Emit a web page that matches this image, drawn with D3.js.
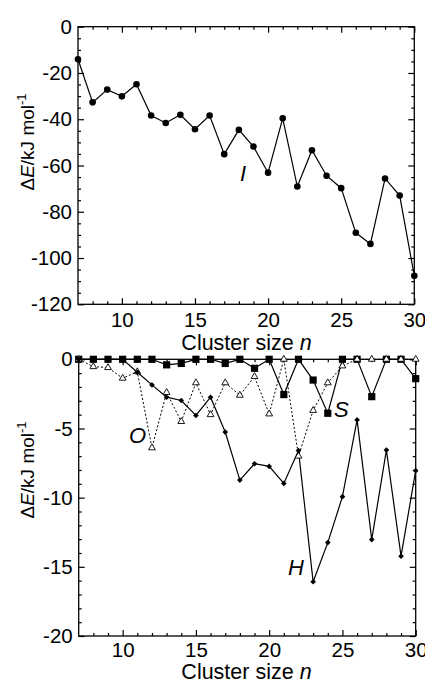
<!DOCTYPE html>
<html>
<head>
<meta charset="utf-8">
<script src="https://cdn.jsdelivr.net/npm/d3@7"></script>
<style>
  body { margin: 0; background: #fff; }
  text { font-family: "Liberation Sans", Arial, sans-serif; fill: #000; }
</style>
</head>
<body>
<svg id="chart" width="425" height="682"></svg>
<script>
// cluster size n
var clusterSize = [7, 8, 9, 10, 11, 12, 13, 14, 15, 16, 17, 18, 19, 20, 21, 22, 23, 24, 25, 26, 27, 28, 29, 30];

// top panel, series I
var energyI = [-14.1, -32.7, -27.2, -30.1, -24.9, -38.4, -41.6, -38.1, -44.3, -38.4, -55.1, -44.6,
               -51.8, -63.1, -39.6, -69.1, -53.4, -64.4, -69.8, -89.1, -93.9, -65.6, -73.0, -107.7];

// bottom panel, series S, O, H
var energyS = [0, 0, 0, 0, 0, 0, -0.4, -0.3, 0, 0, -0.3, 0,
               -0.65, 0, -2.55, 0, -1.5, -3.9, 0, 0, -2.7, 0, 0, -1.4];
var energyO = [0, -0.53, -0.6, -1.37, -0.9, -6.4, -2.4, -4.5, -1.7, -4.0, -1.7, -2.6,
               -1.25, -3.95, 0, -7.0, -3.7, -1.7, -0.48, 0, 0, 0, 0, 0];
var energyH = [0, 0, 0, 0, -0.94, -1.85, -2.74, -2.98, -4.06, -2.74, -5.26, -8.73,
               -7.55, -7.74, -8.97, -6.6, -16.08, -13.25, -9.93, -4.38, -13.03, -6.56, -14.23, -8.05];

var xMajor = [10, 15, 20, 25, 30];
var xMinor = [8, 9, 11, 12, 13, 14, 16, 17, 18, 19, 21, 22, 23, 24, 26, 27, 28, 29];
var yMajorTop = [0, -20, -40, -60, -80, -100, -120];
var yMajorBottom = [0, -5, -10, -15, -20];

var svg = d3.select("#chart");

function zip(ys) {
  return clusterSize.map(function(n, i) { return {n: n, v: ys[i]}; });
}

// plain hyphen for negatives, like the original
function fmt(d) { return String(d); }

function makePanel(box, yDomain, yMajor, yMinorStep, labelPad) {
  var x = d3.scaleLinear().domain([7, 30]).range([box.left, box.right]);
  var y = d3.scaleLinear().domain(yDomain).range([box.top, box.bottom]);
  var yMinor = d3.range(yDomain[0], yDomain[1] - 0.001, -yMinorStep).filter(function(v) {
    return yMajor.indexOf(v) < 0;
  });

  var g = svg.append("g");

  function axis(gen, scale, vals, size, labels, tr) {
    var a = g.append("g")
      .attr("transform", tr)
      .call(gen(scale).tickValues(vals).tickSizeInner(size).tickSizeOuter(0)
        .tickFormat(labels ? fmt : ""));
    a.select(".domain").remove();
    a.selectAll("line").attr("stroke", "#000").attr("stroke-width", 1.2);
    a.selectAll("text").style("font-size", "20.5px").attr("fill", "#000");
    return a;
  }

  var bottomT = "translate(0," + box.bottom + ")", topT = "translate(0," + box.top + ")";
  var leftT = "translate(" + box.left + ",0)", rightT = "translate(" + box.right + ",0)";

  axis(d3.axisBottom, x, xMajor, -6, true, bottomT).call(function(a) { a.selectAll("text").attr("y", labelPad); });
  axis(d3.axisBottom, x, xMinor, -3, false, bottomT);
  axis(d3.axisTop, x, xMajor, -6, false, topT);
  axis(d3.axisTop, x, xMinor, -3, false, topT);
  axis(d3.axisLeft, y, yMajor, -6, true, leftT).call(function(a) { a.selectAll("text").attr("x", -6); });
  axis(d3.axisLeft, y, yMinor, -3, false, leftT);
  axis(d3.axisRight, y, yMajor, -6, false, rightT);
  axis(d3.axisRight, y, yMinor, -3, false, rightT);

  g.append("rect")
    .attr("x", box.left).attr("y", box.top)
    .attr("width", box.right - box.left).attr("height", box.bottom - box.top)
    .attr("fill", "none").attr("stroke", "#000").attr("stroke-width", 1.3);

  return {g: g, x: x, y: y};
}

var topP = makePanel({left: 78, right: 414.3, top: 26.7, bottom: 304.3}, [0, -120], yMajorTop, 5, 8);
var botP = makePanel({left: 78.7, right: 415.7, top: 359.3, bottom: 636}, [0, -20], yMajorBottom, 1, 6);

function drawLine(p, data, dash) {
  var line = d3.line()
    .x(function(d) { return p.x(d.n); })
    .y(function(d) { return p.y(d.v); });
  p.g.append("path")
    .datum(data)
    .attr("fill", "none")
    .attr("stroke", "#000")
    .attr("stroke-width", dash ? 1 : 1.2)
    .attr("stroke-dasharray", dash ? "2,2" : null)
    .attr("d", line);
}

// top: I
drawLine(topP, zip(energyI), false);
topP.g.selectAll("circle.i")
  .data(zip(energyI))
  .enter().append("circle")
    .attr("cx", function(d) { return topP.x(d.n); })
    .attr("cy", function(d) { return topP.y(d.v); })
    .attr("r", 3.3)
    .attr("fill", "#000");

// bottom: S, O, H
drawLine(botP, zip(energyS), false);
drawLine(botP, zip(energyH), false);
drawLine(botP, zip(energyO), true);

botP.g.selectAll("rect.s")
  .data(zip(energyS))
  .enter().append("rect")
    .attr("x", function(d) { return botP.x(d.n) - 3.6; })
    .attr("y", function(d) { return botP.y(d.v) - 3.6; })
    .attr("width", 7.2).attr("height", 7.2)
    .attr("fill", "#000");

var tri = d3.symbol().type(d3.symbolTriangle).size(20);
botP.g.selectAll("path.o")
  .data(zip(energyO))
  .enter().append("path")
    .attr("d", tri)
    .attr("transform", function(d) { return "translate(" + botP.x(d.n) + "," + botP.y(d.v) + ")"; })
    .attr("fill", "#fff")
    .attr("stroke", "#000")
    .attr("stroke-width", 0.9);

var dia = d3.symbol().type(d3.symbolSquare).size(16);
botP.g.selectAll("path.h")
  .data(zip(energyH))
  .enter().append("path")
    .attr("d", dia)
    .attr("transform", function(d) { return "translate(" + botP.x(d.n) + "," + botP.y(d.v) + ") rotate(45)"; })
    .attr("fill", "#000");

// series labels
function seriesLabel(txt, x, y) {
  svg.append("text").attr("x", x).attr("y", y)
    .style("font-size", "22px").style("font-style", "italic").text(txt);
}
seriesLabel("I", 240, 181);
seriesLabel("S", 334, 417);
seriesLabel("O", 129, 443);
seriesLabel("H", 288, 575);

// axis titles
function xTitle(y) {
  var t = svg.append("text").attr("x", 246.5).attr("y", y)
    .attr("text-anchor", "middle").style("font-size", "21.5px");
  t.append("tspan").text("Cluster size ");
  t.append("tspan").style("font-style", "italic").text("n");
}
xTitle(350);
xTitle(679);

function yTitle(cy) {
  var t = svg.append("text")
    .attr("transform", "translate(33.5," + cy + ") rotate(-90)")
    .attr("text-anchor", "middle").style("font-size", "19px");
  t.append("tspan").text("\u0394");
  t.append("tspan").style("font-style", "italic").text("E");
  t.append("tspan").text("/kJ mol");
  t.append("tspan").attr("dy", "-0.55em").style("font-size", "13px").text("-1");
}
yTitle(142);
yTitle(470);
</script>
</body>
</html>
